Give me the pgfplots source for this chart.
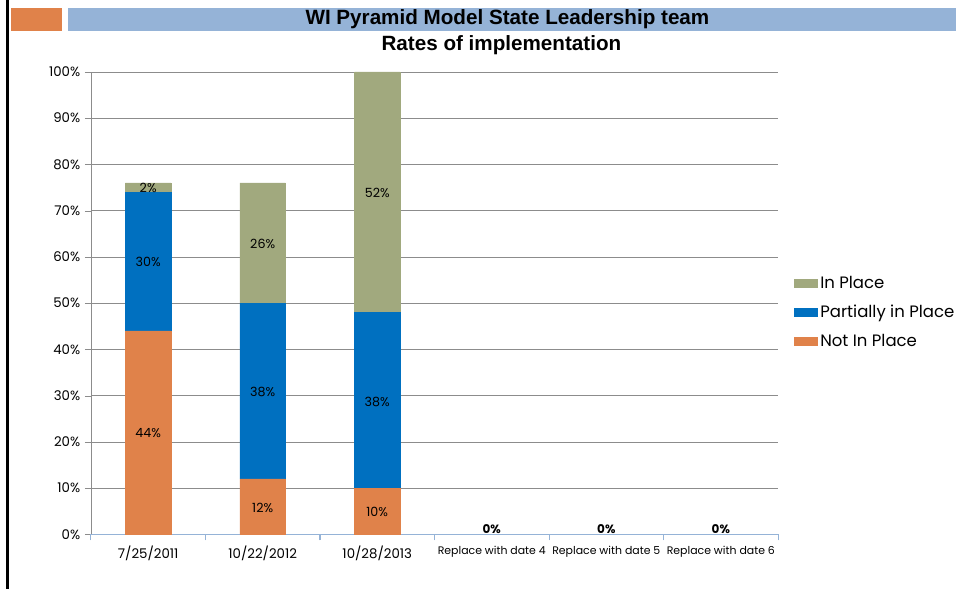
\documentclass[border=0pt]{standalone}
\usepackage{fontspec}
\setmainfont{Poppins}
\newfontfamily\titlefont{Liberation Sans}
\usepackage{pgfplots}
\pgfplotsset{compat=1.18}
\definecolor{inplace}{RGB}{161,169,126}
\definecolor{partial}{RGB}{0,112,192}
\definecolor{notin}{RGB}{224,130,74}
\definecolor{barblue}{RGB}{149,179,215}
\definecolor{gridgray}{RGB}{140,140,140}
\tikzset{lab/.style={font=\fontsize{9.5}{11}\selectfont},
         zlab/.style={font=\bfseries\fontsize{9}{10}\selectfont}}

\begin{document}
\begin{tikzpicture}
% slide frame (1 unit = 1 px of the reference; axis origin at (91,55))
\begin{scope}[shift={(-68.25pt,-41.25pt)}, x=0.75pt, y=0.75pt]
\path (0,0) rectangle (957,590);
\fill[black] (6,0) rectangle (9,590);
\fill[notin] (11,559) rectangle (62,582);
\fill[barblue] (68,559) rectangle (957,582);
\node[font=\titlefont\bfseries\fontsize{15.5}{17}\selectfont] at (508,571) {WI Pyramid Model State Leadership team};
\node[font=\titlefont\bfseries\fontsize{15.5}{17}\selectfont] at (502,545) {Rates of implementation};
\end{scope}

\begin{axis}[
    scale only axis,
    width=516pt, height=347.25pt,
    ybar stacked, bar width=34.1pt,
    xmin=-0.5, xmax=5.5,
    ymin=0, ymax=100,
    xtick={0,...,5},
    xticklabels={7/25/2011,10/22/2012,10/28/2013,
      {\fontsize{8.2}{9}\selectfont Replace with date 4},
      {\fontsize{8.2}{9}\selectfont Replace with date 5},
      {\fontsize{8.2}{9}\selectfont Replace with date 6}},
    extra x ticks={-0.5,0.5,1.5,2.5,3.5,4.5,5.5},
    extra x tick labels={},
    extra x tick style={xtick style={draw=barblue, line width=0.8pt}},
    xtick style={draw=none},
    x tick label style={font=\fontsize{10}{11}\selectfont, yshift=-1pt},
    ytick={0,10,...,100},
    yticklabel={\pgfmathprintnumber{\tick}\%},
    y tick label style={font=\fontsize{10}{11}\selectfont},
    /pgf/number format/assume math mode=true,
    ymajorgrids, grid style={gridgray, line width=0.6pt},
    ytick style={gridgray},
    tick align=outside,
    major tick length=4.5pt,
    axis x line*=bottom, axis y line*=left,
    x axis line style={barblue, line width=0.8pt},
    y axis line style={gridgray},
    legend style={at={([xshift=12pt]1,0.48)}, anchor=west, draw=none,
      font=\fontsize{12.4}{14}\selectfont, row sep=7pt,
      inner sep=0pt},
    legend cell align=left,
    area legend,
    reverse legend,
    clip=false,
]
\addplot[fill=notin, draw=notin] coordinates {(0,44) (1,12) (2,10) (3,0) (4,0) (5,0)};
\addlegendentry{Not In Place}
\addplot[fill=partial, draw=partial] coordinates {(0,30) (1,38) (2,38) (3,0) (4,0) (5,0)};
\addlegendentry{Partially in Place}
\addplot[fill=inplace, draw=inplace] coordinates {(0,2) (1,26) (2,52) (3,0) (4,0) (5,0)};
\addlegendentry{In Place}

% anchors for the segment labels, drawn after the axis so they sit on the bars
\coordinate (n0) at (axis cs:0,22);
\coordinate (p0) at (axis cs:0,59);
\coordinate (i0) at (axis cs:0,75);
\coordinate (n1) at (axis cs:1,5.8);
\coordinate (p1) at (axis cs:1,30.9);
\coordinate (i1) at (axis cs:1,62.9);
\coordinate (n2) at (axis cs:2,4.8);
\coordinate (p2) at (axis cs:2,28.7);
\coordinate (i2) at (axis cs:2,73.9);
\coordinate (z3) at (axis cs:3,1.2);
\coordinate (z4) at (axis cs:4,1.2);
\coordinate (z5) at (axis cs:5,1.2);
\end{axis}
\node[lab] at (n0) {44\%};
\node[lab] at (p0) {30\%};
\node[lab] at (i0) {2\%};
\node[lab] at (n1) {12\%};
\node[lab] at (p1) {38\%};
\node[lab] at (i1) {26\%};
\node[lab] at (n2) {10\%};
\node[lab] at (p2) {38\%};
\node[lab] at (i2) {52\%};
\node[zlab] at (z3) {0\%};
\node[zlab] at (z4) {0\%};
\node[zlab] at (z5) {0\%};
\end{tikzpicture}
\end{document}
